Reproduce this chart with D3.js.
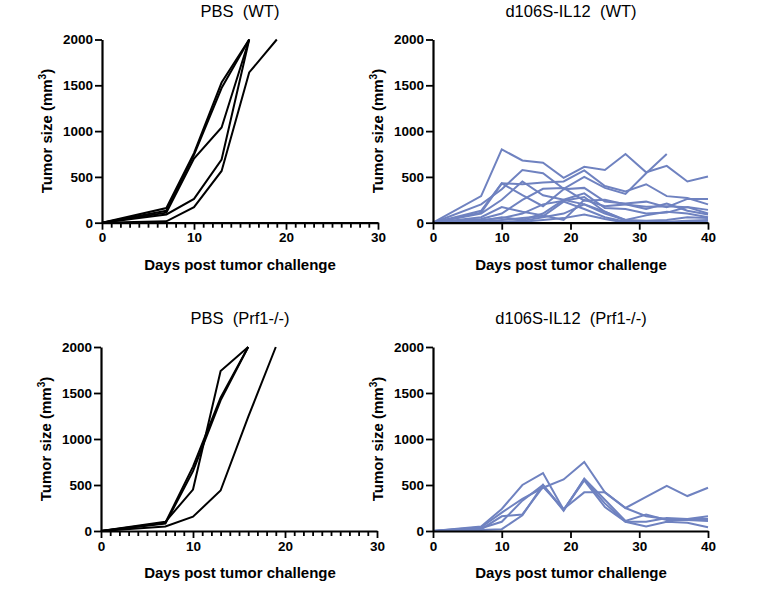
<!DOCTYPE html>
<html>
<head>
<meta charset="utf-8">
<script src="https://cdn.jsdelivr.net/npm/d3@7"></script>
<style>
  body { margin: 0; background: #fff; }
  svg { font-family: "Liberation Sans", Arial, sans-serif; }
</style>
</head>
<body>
<div id="chart"></div>
<script>
// measurement days
var days = [0, 7, 10, 13, 16, 19, 22, 25, 28, 31, 34, 37, 40];
var yTicks = [0, 500, 1000, 1500, 2000];

// PBS (WT)
var pbsWT = [
  [0, 160, 760, 1530, 2000],
  [0, 130, 740, 1470, 2000],
  [0, 110, 700, 1040, 2000],
  [0, 90, 260, 690, 2000],
  [0, 15, 170, 565, 1640, 2000]
];

// d106S-IL12 (WT)
var il12WT = [
  [0, 290, 800, 680, 655, 490, 610, 575, 750, 550, 620, 450, 505],
  [0, 200, 365, 575, 540, 370, 500, 380, 315, 540, 750],
  [0, 130, 430, 420, 440, 450, 570, 400, 340, 420, 290, 270, 200],
  [0, 110, 430, 300, 180, 365, 380, 230, 210, 230, 170, 260, 260],
  [0, 100, 250, 450, 300, 250, 320, 160, 150, 100, 110, 170, 140],
  [0, 40, 100, 250, 370, 380, 240, 250, 200, 175, 180, 170, 100],
  [0, 60, 170, 120, 80, 30, 250, 180, 200, 150, 210, 130, 90],
  [0, 20, 60, 30, 100, 250, 200, 100, 30, 20, 30, 60, 50],
  [0, 30, 50, 100, 200, 240, 280, 120, 20, 0, 0, 0, 20],
  [0, 10, 30, 50, 70, 230, 150, 60, 10, 5, 10, 20, 30],
  [0, 5, 10, 20, 60, 100, 200, 120, 30, 80, 120, 100, 60],
  [0, 0, 5, 10, 30, 50, 90, 40, 0, 0, 0, 10, 0]
];

// PBS (Prf1-/-)
var pbsPrf = [
  [0, 90, 700, 1450, 2000],
  [0, 80, 650, 1420, 2000],
  [0, 100, 450, 1740, 2000],
  [0, 50, 155, 440, 1240, 2000]
];

// d106S-IL12 (Prf1-/-)
var il12Prf = [
  [0, 40, 200, 350, 470, 560, 750, 420, 250, 370, 490, 380, 470],
  [0, 50, 240, 500, 630, 230, 560, 300, 100, 50, 100, 90, 40],
  [0, 30, 100, 330, 500, 220, 570, 340, 110, 180, 120, 120, 110],
  [0, 20, 160, 180, 480, 240, 420, 420, 250, 160, 130, 130, 130],
  [0, 10, 20, 170, 500, 230, 550, 260, 100, 100, 140, 130, 160]
];

var width = 759, height = 592;

var svg = d3.select("#chart").append("svg")
  .attr("width", width)
  .attr("height", height);

var panels = [
  { title: "PBS  (WT)", data: pbsWT, color: "#000", xMax: 30, minor: true, cx: 240,
    left: 102, right: 378, top: 39.5, bottom: 222.7 },
  { title: "d106S-IL12  (WT)", data: il12WT, color: "#6f82c0", xMax: 40, minor: false, cx: 571,
    left: 433, right: 708, top: 39.5, bottom: 222.7 },
  { title: "PBS  (Prf1-/-)", data: pbsPrf, color: "#000", xMax: 30, minor: true, cx: 240,
    left: 101, right: 377, top: 347, bottom: 531 },
  { title: "d106S-IL12  (Prf1-/-)", data: il12Prf, color: "#6f82c0", xMax: 40, minor: false, cx: 571,
    left: 433, right: 708, top: 347, bottom: 531 }
];

panels.forEach(function (p) {
  var x = d3.scaleLinear().domain([0, p.xMax]).range([p.left, p.right]);
  var y = d3.scaleLinear().domain([0, 2000]).range([p.bottom, p.top]);
  var g = svg.append("g");

  var line = d3.line()
    .x(function (d, i) { return x(days[i]); })
    .y(function (d) { return y(d); });

  g.selectAll("path.series").data(p.data).enter().append("path")
    .attr("class", "series")
    .attr("fill", "none")
    .attr("stroke", p.color)
    .attr("stroke-width", 2)
    .attr("d", line);

  // x axis
  g.append("g")
    .attr("transform", "translate(0," + p.bottom + ")")
    .call(d3.axisBottom(x).tickValues(d3.range(0, p.xMax + 1, 10)).tickFormat(d3.format("d"))
      .tickSize(7).tickPadding(3).tickSizeOuter(0));
  if (p.minor) {
    g.append("g")
      .attr("transform", "translate(0," + p.bottom + ")")
      .call(d3.axisBottom(x).tickValues(d3.range(0, p.xMax + 1, 1).filter(function (d) { return d % 10; }))
        .tickSize(5).tickFormat("").tickSizeOuter(0))
      .call(function (s) { s.select(".domain").remove(); });
  }

  // y axis
  g.append("g")
    .attr("transform", "translate(" + p.left + ",0)")
    .call(d3.axisLeft(y).tickValues(yTicks).tickFormat(d3.format("d"))
      .tickSize(7).tickPadding(2).tickSizeOuter(0));

  g.selectAll(".domain").attr("stroke", "#000").attr("stroke-width", 2.2);
  g.selectAll(".tick line").attr("stroke", "#000").attr("stroke-width", 1.8);
  g.selectAll(".tick text")
    .attr("fill", "#000")
    .style("font-size", "13.5px")
    .style("font-weight", "bold")
    .style("font-family", "'Liberation Sans', Arial, sans-serif");

  // title
  g.append("text")
    .attr("x", p.cx)
    .attr("y", p.top - 23)
    .attr("text-anchor", "middle")
    .style("font-size", "16.5px")
    .style("white-space", "pre")
    .text(p.title);

  // x label
  g.append("text")
    .attr("x", p.cx)
    .attr("y", p.bottom + 47)
    .attr("text-anchor", "middle")
    .style("font-size", "15px")
    .style("font-weight", "bold")
    .text("Days post tumor challenge");

  // y label
  var yl = g.append("text")
    .attr("transform", "translate(" + (p.left - 50) + "," + ((p.top + p.bottom) / 2) + ") rotate(-90)")
    .attr("text-anchor", "middle")
    .style("font-size", "15px")
    .style("font-weight", "bold");
  yl.append("tspan").text("Tumor size (mm");
  yl.append("tspan").attr("dy", -6).style("font-size", "10px").text("3");
  yl.append("tspan").attr("dy", 6).text(")");
});
</script>
</body>
</html>
